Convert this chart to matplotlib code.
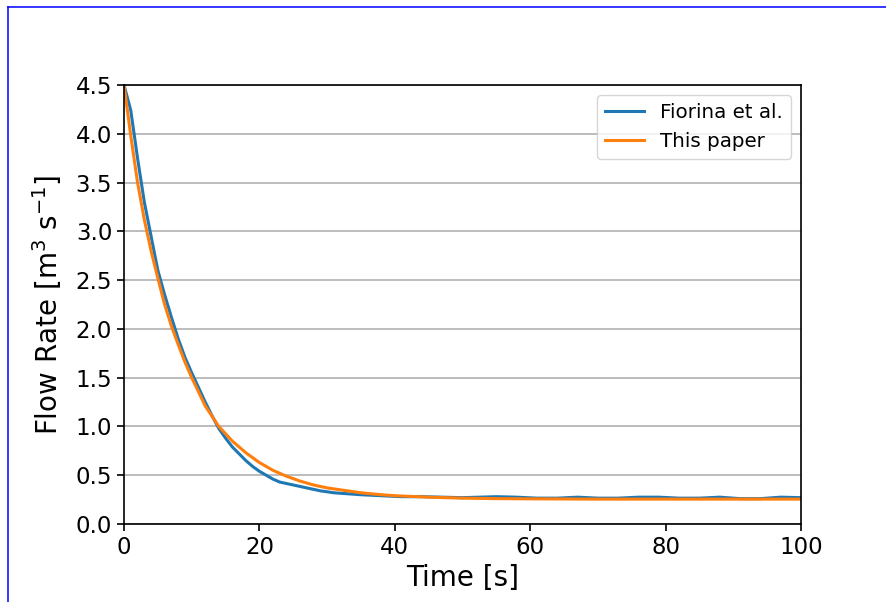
import matplotlib
matplotlib.use("Agg")
import matplotlib.pyplot as plt
from matplotlib.lines import Line2D

# Data
t_fiorina = [0, 1, 2, 3, 4, 5, 6, 7, 8, 9, 10, 11, 12, 13, 14, 15, 16, 17, 18, 19,
             20, 21, 22, 23, 25, 27, 29, 31, 33, 35, 38, 41, 44, 47, 50, 55, 58,
             61, 64, 67, 70, 73, 76, 79, 82, 85, 88, 91, 94, 97, 100]
q_fiorina = [4.5, 4.24, 3.75, 3.30, 2.95, 2.60, 2.35, 2.12, 1.90, 1.71, 1.55, 1.40,
             1.25, 1.11, 0.98, 0.88, 0.79, 0.72, 0.65, 0.59, 0.54, 0.50, 0.46, 0.43,
             0.40, 0.37, 0.34, 0.32, 0.31, 0.30, 0.29, 0.28, 0.28, 0.275, 0.27, 0.28,
             0.275, 0.265, 0.265, 0.275, 0.265, 0.265, 0.275, 0.275, 0.265, 0.265,
             0.275, 0.26, 0.26, 0.275, 0.27]

t_paper = [0, 1, 2, 3, 4, 5, 6, 7, 8, 9, 10, 12, 14, 16, 18, 20, 22, 24, 26, 28, 30,
           32, 35, 38, 40, 45, 50, 55, 60, 70, 80, 90, 100]
q_paper = [4.5, 3.98, 3.50, 3.12, 2.80, 2.52, 2.25, 2.03, 1.84, 1.66, 1.50, 1.21,
           1.00, 0.85, 0.73, 0.63, 0.55, 0.49, 0.44, 0.40, 0.37, 0.35, 0.32, 0.30,
           0.29, 0.275, 0.265, 0.26, 0.258, 0.255, 0.255, 0.255, 0.255]

yticks = [0.0, 0.5, 1.0, 1.5, 2.0, 2.5, 3.0, 3.5, 4.0, 4.5]
xticks = [0, 20, 40, 60, 80, 100]

fig = plt.figure(figsize=(8.86, 6.02), dpi=100)
ax = fig.add_axes([124/886, 1 - 524/602, (801 - 124)/886, (524 - 85)/602])

ax.plot(t_fiorina, q_fiorina, color="#1f77b4", lw=2.2, label="Fiorina et al.")
ax.plot(t_paper, q_paper, color="#ff7f0e", lw=2.2, label="This paper")

ax.set_xlim(0, 100)
ax.set_ylim(0, 4.5)
ax.set_xticks(xticks)
ax.set_yticks(yticks)
ax.set_yticklabels([f"{v:.1f}" for v in yticks])
ax.yaxis.grid(True, color="#b0b0b0", lw=1.2)
ax.set_axisbelow(True)
ax.tick_params(labelsize=16.5, length=5, width=1.2)
for s in ax.spines.values():
    s.set_linewidth(1.2)

ax.set_xlabel("Time [s]", fontsize=20, labelpad=4)
ax.set_ylabel("Flow Rate [m$^3$ s$^{-1}$]", fontsize=20, labelpad=8)

ax.legend(loc="upper right", fontsize=14.3, handlelength=2.0)

# blue border visible at top and left of the reference image
fig.add_artist(Line2D([7.5/886, 1.0], [1 - 6.5/602, 1 - 6.5/602],
                      transform=fig.transFigure, color="#0000ff", lw=1.1))
fig.add_artist(Line2D([7.5/886, 7.5/886], [0.0, 1 - 6.5/602],
                      transform=fig.transFigure, color="#0000ff", lw=1.1))

fig.savefig("out.png", dpi=100)
